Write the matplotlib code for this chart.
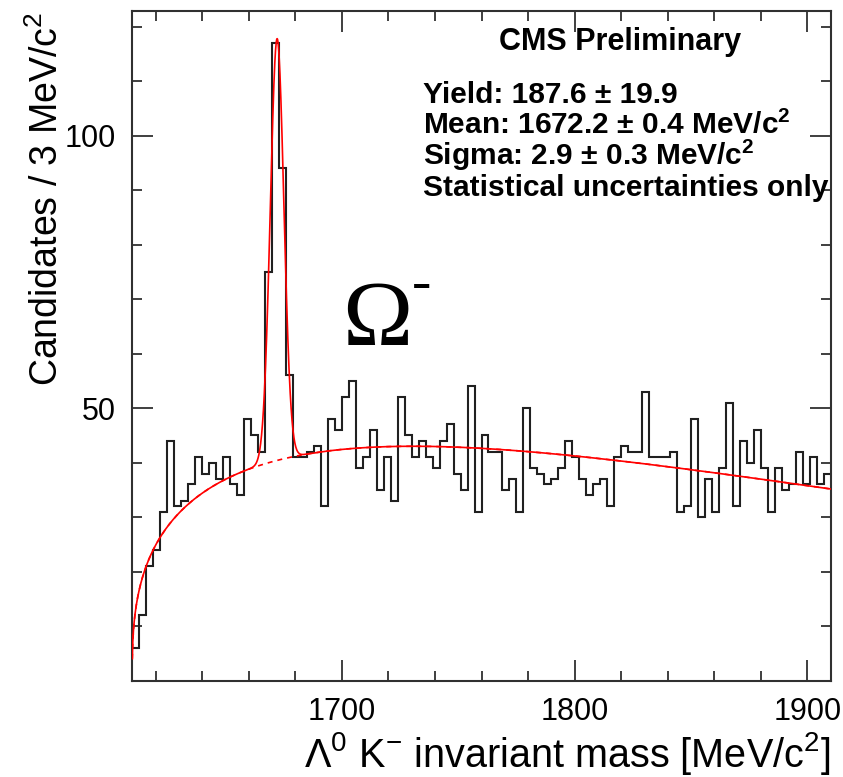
import matplotlib
matplotlib.use('Agg')
import matplotlib.pyplot as plt
import numpy as np

plt.rcParams['font.family'] = ['Liberation Sans', 'DejaVu Sans']
plt.rcParams['mathtext.default'] = 'regular'

# histogram: Lambda K- candidates, 3 MeV bins from 1610 to 1910
m_lo = 1610
bin_w = 3
counts = [6, 12, 21, 24, 31, 44, 32, 33, 36, 41,
          38, 40, 37, 41, 36, 34, 48, 45, 42, 75,
          117, 94, 56, 41, 41, 42, 43, 32, 48, 46,
          52, 55, 39, 41, 46, 35, 41, 33, 52, 45,
          41, 44, 41, 39, 44, 47, 38, 35, 54, 31,
          45, 42, 42, 35, 37, 31, 50, 39, 38, 36,
          37, 39, 44, 41, 37, 34, 36, 37, 32, 41,
          43, 42, 42, 53, 41, 41, 41, 42, 31, 32,
          48, 30, 37, 31, 39, 51, 32, 44, 40, 46,
          39, 31, 39, 35, 36, 42, 36, 41, 36, 38]

# fit results (from the legend)
sig_yield = 187.6
sig_mean = 1672.2
sig_sigma = 2.9

# threshold background shape
bkg_m0 = 1609.95
bkg_norm = 11.4
bkg_pow = 0.35
bkg_slope = 0.0029

edges = m_lo + bin_w * np.arange(len(counts) + 1)
m_hi = edges[-1]


def background(m):
    d = np.clip(m - bkg_m0, 0, None)
    return bkg_norm * d ** bkg_pow * np.exp(-bkg_slope * d)


def signal(m):
    amp = sig_yield * bin_w / (np.sqrt(2 * np.pi) * sig_sigma)
    return amp * np.exp(-0.5 * ((m - sig_mean) / sig_sigma) ** 2)


W, H = 843, 777
fig = plt.figure(figsize=(W / 100, H / 100), dpi=100)
ax = fig.add_axes([132.3 / W, 1 - 680.5 / H, (830.7 - 132.3) / W, (680.5 - 11.3) / H])

ax.stairs(counts, edges, color='#202020', linewidth=1.5, baseline=None, zorder=2)

mm = np.linspace(m_lo, m_hi, 3000)
ax.plot(mm, background(mm), color='red', linewidth=1.2, linestyle=(0, (3, 3)), zorder=3)
ax.plot(mm, background(mm) + signal(mm), color='red', linewidth=1.2, zorder=4)

ax.set_xlim(m_lo, m_hi)
ax.set_ylim(0, 1.05 * max(counts))

ax.set_xticks([1700, 1800, 1900])
ax.set_xticks(np.arange(1620, 1910, 20), minor=True)
ax.set_yticks([50, 100])
ax.set_yticks(np.arange(10, 121, 10), minor=True)

frame_col = '#303030'
for s in ax.spines.values():
    s.set_linewidth(1.5)
    s.set_color(frame_col)
ax.tick_params(which='both', direction='in', top=True, right=True, color=frame_col, width=1.3)
ax.tick_params(which='major', length=15, labelsize=22, pad=12)
ax.tick_params(which='minor', length=7.5)

ax.set_ylabel('Candidates / 3 MeV/c$^{2}$', fontsize=27, loc='top', labelpad=-1)
ax.set_xlabel('Λ$^{0}$ K$^{-}$ invariant mass [MeV/c$^{2}$]', fontsize=28.5, loc='right', labelpad=2)

fig.text(620 / W, 1 - 50 / H, 'CMS Preliminary', fontsize=22, fontweight='bold',
         ha='center', va='baseline')
info = ['Yield: 187.6 ± 19.9',
        'Mean: 1672.2 ± 0.4 MeV/c$^{2}$',
        'Sigma: 2.9 ± 0.3 MeV/c$^{2}$',
        'Statistical uncertainties only']
for i, line in enumerate(info):
    fig.text(423 / W, 1 - (103 + 31 * i) / H, line, fontsize=21.5, fontweight='bold',
             ha='left', va='baseline')

fig.text(342 / W, 1 - 345 / H, 'Ω', fontsize=68, family='Liberation Serif',
         ha='left', va='baseline')
fig.text(412 / W, 1 - 299 / H, '-', fontsize=42, family='Liberation Serif',
         ha='left', va='baseline')

fig.savefig('out.png', dpi=100)
